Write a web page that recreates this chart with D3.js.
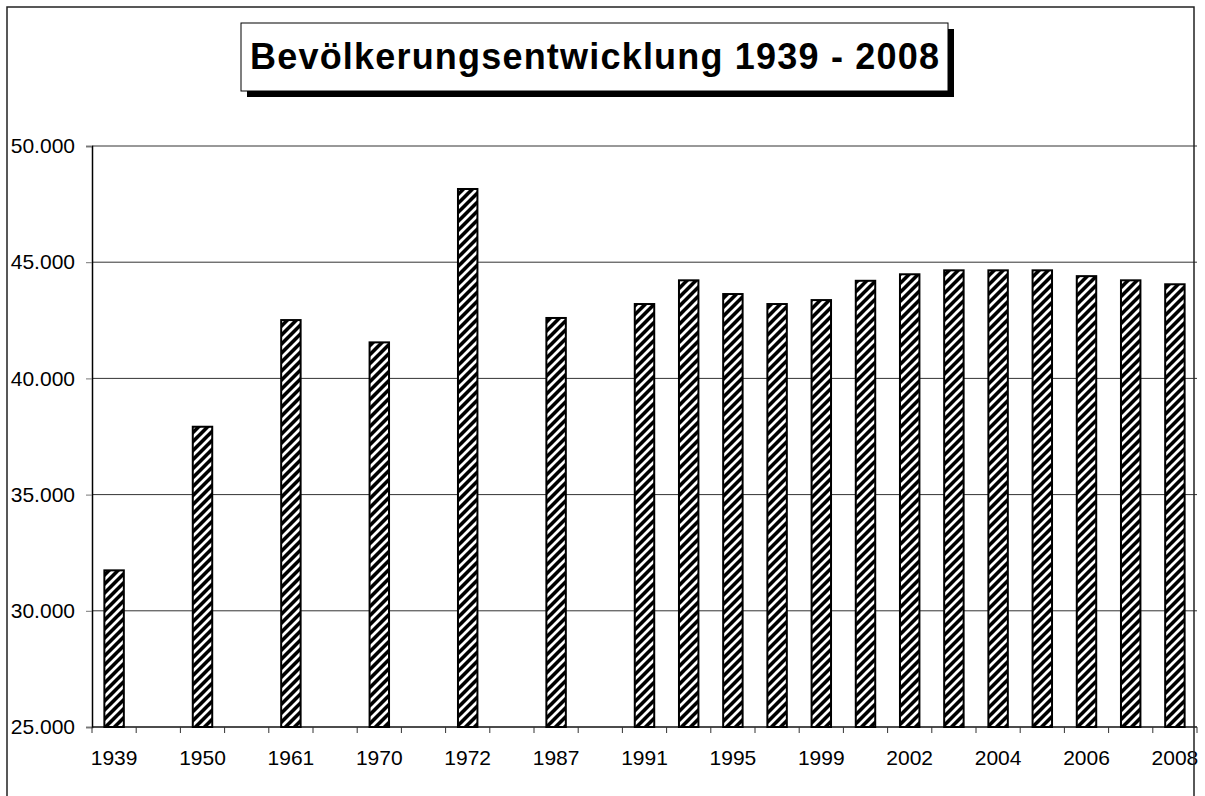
<!DOCTYPE html>
<html>
<head>
<meta charset="utf-8">
<script src="https://cdn.jsdelivr.net/npm/d3@7"></script>
<style>
  body { margin: 0; background: #fff; }
  text { font-family: "Liberation Sans", Arial, sans-serif; }
</style>
</head>
<body>
<div class="chart"></div>
<script>
// data (every second category label is skipped on the axis)
var years = ["1939", "1945", "1950", "1955", "1961", "1965", "1970", "1971",
  "1972", "1980", "1987", "1989", "1991", "1993", "1995", "1997", "1999",
  "2000", "2002", "2003", "2004", "2005", "2006", "2007", "2008"];
var population = [31740, null, 37920, null, 42510, null, 41550, null,
  48150, null, 42600, null, 43200, 44220, 43630, 43200, 43370,
  44200, 44480, 44650, 44650, 44650, 44400, 44220, 44050];
var yTicks = [25000, 30000, 35000, 40000, 45000, 50000];
var title = "Bevölkerungsentwicklung 1939 - 2008";

var svgWidth = 1205;
var svgHeight = 796;

var margin = { top: 146, left: 92, right: 8 };
var plotBottom = 727;
var width = svgWidth - margin.left - margin.right;

var svg = d3.select(".chart")
  .append("svg")
  .attr("width", svgWidth)
  .attr("height", svgHeight);

// hatch pattern for the bars
var p = 9;
var pattern = svg.append("defs").append("pattern")
  .attr("id", "hatch")
  .attr("patternUnits", "userSpaceOnUse")
  .attr("width", p)
  .attr("height", p);
pattern.append("rect")
  .attr("width", p)
  .attr("height", p)
  .attr("fill", "#000");
pattern.append("path")
  .attr("d", `M-3,3 L3,-3 M0,${p} L${p},0 M${p - 3},${p + 3} L${p + 3},${p - 3}`)
  .attr("stroke", "#fff")
  .attr("stroke-width", 2.8);

// german number format 50.000
var de = d3.formatLocale({ decimal: ",", thousands: ".", grouping: [3], currency: ["", " €"] });
var fmt = de.format(",");

// scales
var xScale = d3.scaleBand()
  .domain(d3.range(years.length))
  .range([margin.left, margin.left + width])
  .padding(0);

var yScale = d3.scaleLinear()
  .domain([25000, 50000])
  .range([plotBottom, margin.top]);

// gridlines
svg.append("g")
  .selectAll("line")
  .data(yTicks)
  .enter()
  .append("line")
  .attr("x1", margin.left)
  .attr("x2", margin.left + width)
  .attr("y1", d => yScale(d))
  .attr("y2", d => yScale(d))
  .attr("stroke", "#333")
  .attr("stroke-width", 1);

// y axis
var yAxis = d3.axisLeft(yScale)
  .tickValues(yTicks)
  .tickSize(6)
  .tickPadding(11)
  .tickFormat(fmt);

var yG = svg.append("g")
  .attr("transform", `translate(${margin.left}, 0)`)
  .call(yAxis);
yG.select(".domain").attr("stroke", "#000").attr("stroke-width", 1.5);
yG.selectAll(".tick line").attr("stroke", "#777");
yG.selectAll(".tick text")
  .attr("font-size", "21px")
  .attr("fill", "#000")
  .attr("font-family", "Liberation Sans, Arial, sans-serif");

// bars
var bw = xScale.bandwidth();
var barW = bw * 0.44;
var barData = population.map((v, i) => ({ i: i, v: v })).filter(d => d.v != null);

svg.append("g")
  .selectAll("rect")
  .data(barData)
  .enter()
  .append("rect")
  .attr("x", d => xScale(d.i) + (bw - barW) / 2)
  .attr("y", d => yScale(d.v))
  .attr("width", barW)
  .attr("height", d => plotBottom - yScale(d.v))
  .attr("fill", "url(#hatch)")
  .attr("stroke", "#000")
  .attr("stroke-width", 2);

// x axis line + ticks between categories
svg.append("line")
  .attr("x1", margin.left)
  .attr("x2", margin.left + width)
  .attr("y1", plotBottom)
  .attr("y2", plotBottom)
  .attr("stroke", "#000")
  .attr("stroke-width", 1.2);

var bounds = d3.range(years.length).map(i => xScale(i)).concat([xScale.range()[1]]);
svg.append("g")
  .selectAll("line")
  .data(bounds)
  .enter()
  .append("line")
  .attr("x1", d => d)
  .attr("x2", d => d)
  .attr("y1", plotBottom)
  .attr("y2", plotBottom + 6)
  .attr("stroke", "#333");

// x labels, every second one
svg.append("g")
  .selectAll("text")
  .data(years.map((y, i) => ({ y: y, i: i })).filter(d => d.i % 2 == 0))
  .enter()
  .append("text")
  .attr("x", d => xScale(d.i) + bw / 2)
  .attr("y", 765)
  .attr("text-anchor", "middle")
  .attr("font-size", "21px")
  .text(d => d.y);

// title box with shadow
svg.append("rect")
  .attr("x", 247)
  .attr("y", 29)
  .attr("width", 707)
  .attr("height", 68)
  .attr("fill", "#000");
svg.append("rect")
  .attr("x", 241)
  .attr("y", 23)
  .attr("width", 707)
  .attr("height", 68)
  .attr("fill", "#fff")
  .attr("stroke", "#000")
  .attr("stroke-width", 1);
svg.append("text")
  .attr("x", 594.5)
  .attr("y", 69)
  .attr("text-anchor", "middle")
  .attr("font-size", "36px")
  .attr("font-weight", "bold")
  .attr("textLength", 689)
  .attr("lengthAdjust", "spacing")
  .text(title);

// chart frame
svg.append("rect")
  .attr("x", 7)
  .attr("y", 7)
  .attr("width", 1187)
  .attr("height", 820)
  .attr("fill", "none")
  .attr("stroke", "#222")
  .attr("stroke-width", 1.5);
</script>
</body>
</html>
